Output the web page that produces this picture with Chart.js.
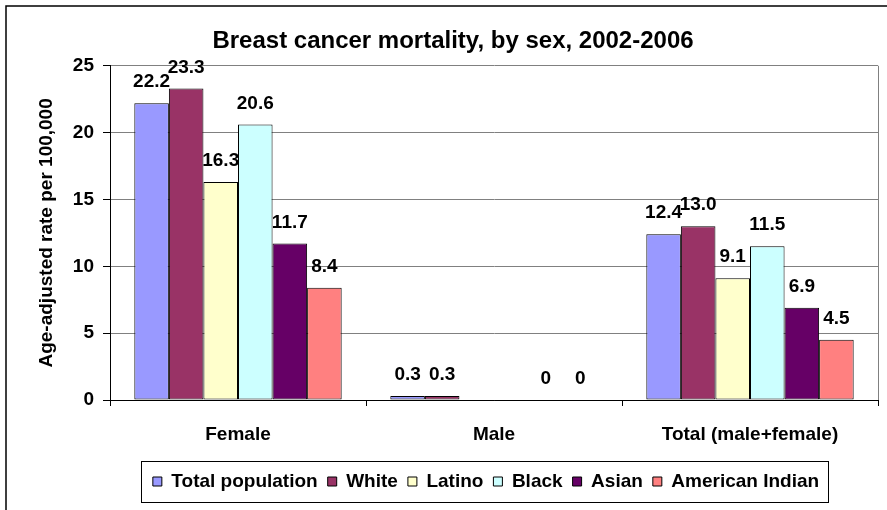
<!DOCTYPE html>
<html>
<head>
<meta charset="utf-8">
<script src="https://cdn.jsdelivr.net/npm/chart.js@4/dist/chart.umd.min.js"></script>
<style>
html, body { margin: 0; padding: 0; background: #fff; }
#wrap { width: 887px; height: 510px; }
</style>
</head>
<body>
<div id="wrap"><canvas id="c" width="887" height="510"></canvas></div>
<script>
const categories = ['Female', 'Male', 'Total (male+female)'];
const totalPopulation = [22.2, 0.3, 12.4];
const white = [23.3, 0.3, 13.0];
const latino = [16.3, null, 9.1];
const black = [20.6, null, 11.5];
const asian = [11.7, 0, 6.9];
const americanIndian = [8.4, 0, 4.5];
const seriesNames = ['Total population', 'White', 'Latino', 'Black', 'Asian', 'American Indian'];
const yTicks = [0, 5, 10, 15, 20, 25];

const FAMILY = '"Liberation Sans", Arial, sans-serif';
const colors = ['#9999FF', '#993366', '#FFFFCC', '#CCFFFF', '#660066', '#FF8080'];
const seriesData = [totalPopulation, white, latino, black, asian, americanIndian];
const LEGEND_SHIFT = -8;

const datasets = seriesNames.map((name, i) => ({
  label: name,
  data: seriesData[i],
  backgroundColor: colors[i],
  borderColor: '#000',
  borderWidth: 1,
  borderSkipped: false,
  categoryPercentage: 0.81,
  barPercentage: 1.0
}));

const framePlugin = {
  id: 'framePlugin',
  afterLayout(chart) {
    const lg = chart.legend;
    lg.left += LEGEND_SHIFT;
    lg.right += LEGEND_SHIFT;
    if (lg.legendHitBoxes) lg.legendHitBoxes.forEach(h => { h.left += LEGEND_SHIFT; });
  },
  beforeDraw(chart) {
    const ctx = chart.ctx;
    ctx.save();
    ctx.fillStyle = '#fff';
    ctx.fillRect(0, 0, chart.width, chart.height);
    ctx.strokeStyle = '#000';
    ctx.lineWidth = 1.5;
    ctx.beginPath();
    ctx.moveTo(6, chart.height);
    ctx.lineTo(6, 6);
    ctx.lineTo(chart.width, 6);
    ctx.stroke();
    ctx.restore();
  },
  afterDraw(chart) {
    const ctx = chart.ctx;
    const a = chart.chartArea;
    ctx.save();
    ctx.strokeStyle = '#808080';
    ctx.lineWidth = 1;
    ctx.beginPath();
    ctx.moveTo(Math.round(a.right) + 0.5, a.top);
    ctx.lineTo(Math.round(a.right) + 0.5, a.bottom);
    ctx.stroke();
    const lg = chart.legend;
    const hb = lg.legendHitBoxes;
    if (hb && hb.length) {
      const left = Math.round(hb[0].left - 12) + 0.5;
      const last = hb[hb.length - 1];
      const right = Math.round(last.left + last.width + 9) + 0.5;
      const top = Math.round(lg.top - 1) + 0.5;
      const bottom = Math.round(lg.bottom + 1) + 0.5;
      ctx.strokeStyle = '#000';
      ctx.strokeRect(left, top, right - left, bottom - top);
    }
    ctx.restore();
  }
};

const labelPlugin = {
  id: 'labelPlugin',
  afterDatasetsDraw(chart) {
    const ctx = chart.ctx;
    ctx.save();
    ctx.font = 'bold 19px ' + FAMILY;
    ctx.fillStyle = '#000';
    ctx.textAlign = 'center';
    ctx.textBaseline = 'alphabetic';
    chart.data.datasets.forEach((ds, i) => {
      const meta = chart.getDatasetMeta(i);
      meta.data.forEach((bar, j) => {
        const v = ds.data[j];
        if (v === null || v === undefined) return;
        const txt = v === 0 ? '0' : v.toFixed(1);
        ctx.fillText(txt, bar.x, bar.y - 16);
      });
    });
    ctx.restore();
  }
};

new Chart(document.getElementById('c'), {
  type: 'bar',
  data: { labels: categories, datasets },
  plugins: [framePlugin, labelPlugin],
  options: {
    responsive: false,
    animation: false,
    devicePixelRatio: 1,
    layout: { padding: { left: 28, right: 9, top: 0, bottom: 9 } },
    plugins: {
      tooltip: { enabled: false },
      title: {
        display: true,
        text: 'Breast cancer mortality, by sex, 2002-2006',
        color: '#000',
        font: { family: FAMILY, size: 24, weight: 'bold' },
        padding: { top: 27, bottom: 10 }
      },
      legend: {
        position: 'bottom',
        fullSize: false,
        labels: {
          color: '#000',
          font: { family: FAMILY, size: 19, weight: 'bold' },
          boxWidth: 9,
          boxHeight: 9,
          padding: 10
        }
      }
    },
    scales: {
      x: {
        grid: { display: true, drawOnChartArea: false, drawTicks: true, tickLength: 6, offset: true, color: '#000' },
        border: { color: '#000', width: 1 },
        ticks: { color: '#000', font: { family: FAMILY, size: 19, weight: 'bold' }, padding: 17, maxRotation: 0, autoSkip: false },
        afterFit(s) { s.height = 62; }
      },
      y: {
        min: 0,
        max: 25,
        afterBuildTicks(s) { s.ticks = yTicks.map(v => ({ value: v })); },
        ticks: { color: '#000', font: { family: FAMILY, size: 19, weight: 'bold' }, padding: 9 },
        grid: {
          color: (c) => (c.tick && c.tick.value === 0 ? '#000' : '#808080'),
          tickColor: '#000',
          tickLength: 7
        },
        border: { color: '#000', width: 1 },
        title: {
          display: true,
          text: 'Age-adjusted rate per 100,000',
          color: '#000',
          font: { family: FAMILY, size: 19, weight: 'bold' },
          padding: { top: 7, bottom: 0 }
        },
        afterFit(s) { s.width = 82; }
      }
    }
  }
});
</script>
</body>
</html>
